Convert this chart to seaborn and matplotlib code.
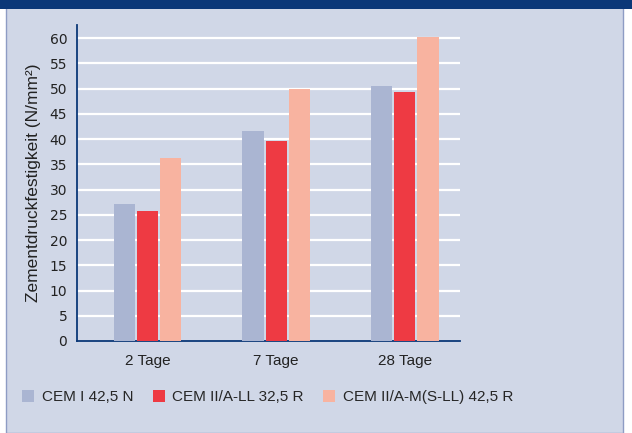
import matplotlib

matplotlib.use("Agg")
import matplotlib.pyplot as plt
import pandas as pd
import seaborn as sns
from matplotlib.patches import Rectangle

# data
ages = ["2 Tage", "7 Tage", "28 Tage"]
cement_types = ["CEM I 42,5 N", "CEM II/A-LL 32,5 R", "CEM II/A-M(S-LL) 42,5 R"]
cem_i = [27.1, 41.6, 50.5]
cem_ii_ll = [25.7, 39.6, 49.3]
cem_ii_m = [36.2, 49.9, 60.2]
y_ticks = list(range(0, 61, 5))

BG = "#D0D7E7"
NAVY = "#0B3878"
colors = ["#AAB5D2", "#EE3A43", "#F8B3A0"]

df = pd.DataFrame(
    {
        "Alter": ages * 3,
        "Zement": [c for c in cement_types for _ in ages],
        "Festigkeit": cem_i + cem_ii_ll + cem_ii_m,
    }
)

sns.set_style("white")
plt.rcParams["font.family"] = ["Liberation Sans", "DejaVu Sans"]

fig = plt.figure(figsize=(6.32, 4.33), dpi=100, facecolor="white")
W, H = 632, 433
# framed panel and navy top band
fig.patches.append(Rectangle((6 / W, 0), 617 / W, 1, transform=fig.transFigure,
                             facecolor=BG, edgecolor="#8E9CC4", linewidth=1, zorder=-2))
fig.patches.append(Rectangle((0, 1 - 9 / H), 1, 9 / H, transform=fig.transFigure,
                             facecolor=NAVY, edgecolor="none", zorder=-1))

ax = fig.add_axes([77 / W, 1 - 341 / H, (460 - 77) / W, (341 - 25) / H])
ax.set_facecolor(BG)

sns.barplot(data=df, x="Alter", y="Festigkeit", hue="Zement", hue_order=cement_types,
            palette=colors, width=0.54, gap=0.08, saturation=1, linewidth=0,
            ax=ax, legend=True, zorder=3)

ax.set_ylim(0, 62.6)
ax.set_xlim(-0.55, 2.43)
ax.set_yticks(y_ticks)
for y in y_ticks[1:]:
    ax.axhline(y, color="white", linewidth=1.6, zorder=1)

for side in ["top", "right"]:
    ax.spines[side].set_visible(False)
for side in ["left", "bottom"]:
    ax.spines[side].set_color(NAVY)
    ax.spines[side].set_linewidth(1.3)

ax.tick_params(axis="y", length=0, labelsize=10, labelcolor="#222222", pad=7)
ax.set_yticklabels([str(v) for v in y_ticks], family="DejaVu Sans")
ax.tick_params(axis="x", which="major", length=0, labelsize=11, labelcolor="#222222", pad=9)
ax.set_xticks([0.5, 1.5, 2.43], minor=True)
ax.tick_params(axis="x", which="minor", length=5, width=1.3, color=NAVY, direction="out")
ax.set_xlabel("")
ax.set_ylabel("Zementdruckfestigkeit (N/mm²)", fontsize=12.5, color="#222222", labelpad=6)

handles, labels = ax.get_legend_handles_labels()
for h in handles:
    h.set_edgecolor("none")
ax.legend_.remove()
fig.legend(handles, labels, loc="center left", bbox_to_anchor=(16 / W, 1 - 397 / H),
           ncol=3, frameon=False, fontsize=11, handlelength=0.8, handleheight=0.8,
           handletextpad=0.5, columnspacing=1.25, borderaxespad=0)

fig.savefig("out.png", dpi=100, facecolor=fig.get_facecolor())
